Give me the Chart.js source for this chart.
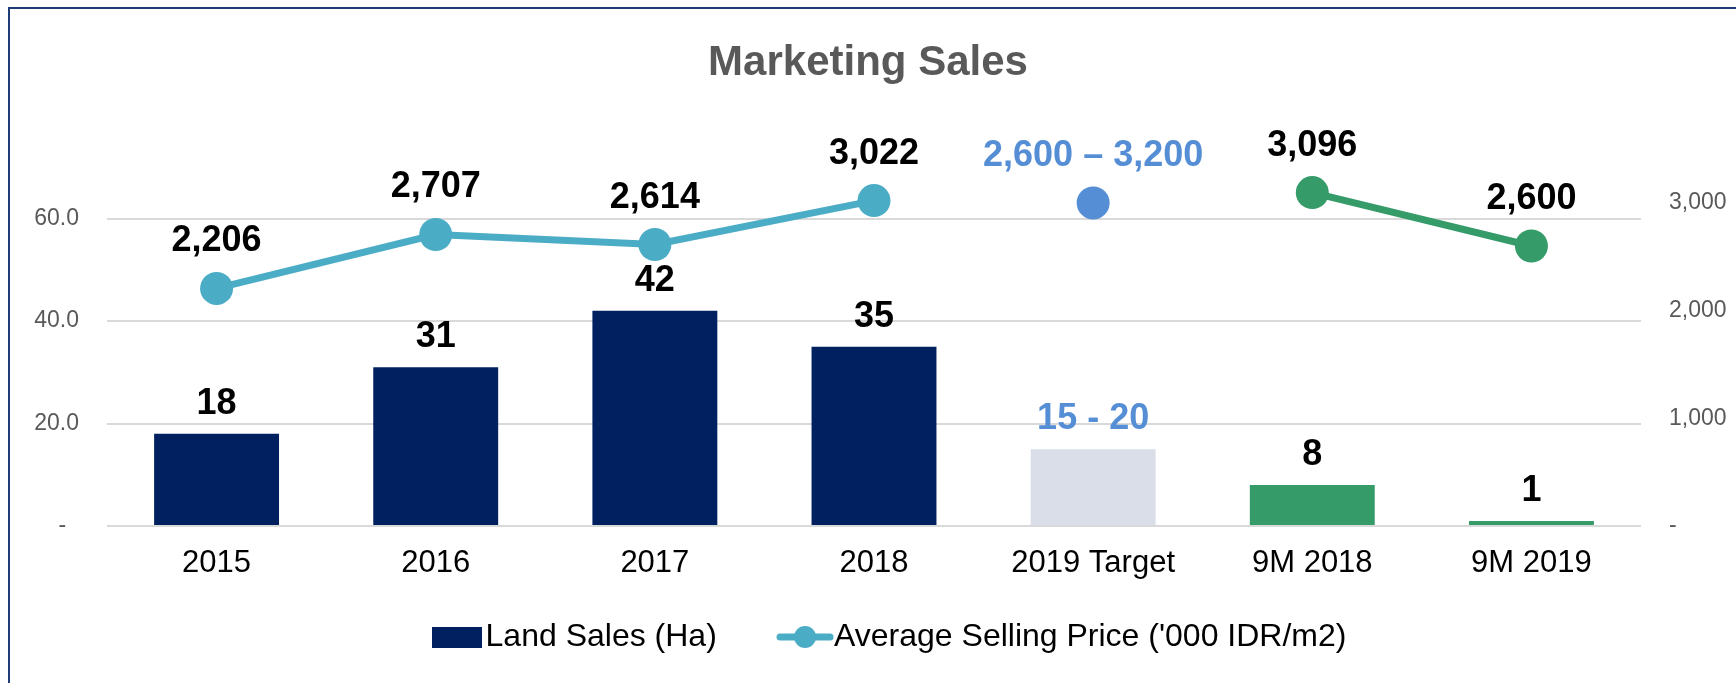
<!DOCTYPE html>
<html>
<head>
<meta charset="utf-8">
<script src="https://cdn.jsdelivr.net/npm/chart.js@4"></script>
<style>
  html, body { margin: 0; padding: 0; background: #fff; }
  #wrap { position: relative; width: 1736px; height: 683px; overflow: hidden; }
  #frame {
    position: absolute; left: 8px; top: 7px; width: 1760px; height: 700px;
    border-left: 2px solid #1F3C78; border-top: 2px solid #1F3C78; pointer-events: none;
  }
</style>
</head>
<body>
<div id="wrap">
  <canvas id="chart" width="1736" height="683"></canvas>
  <div id="frame"></div>
</div>
<script>
const categories = ['2015', '2016', '2017', '2018', '2019 Target', '9M 2018', '9M 2019'];
const landSales = [18, 31, 42, 35, 15, 8, 1];
const landLabels = ['18', '31', '42', '35', '15 - 20', '8', '1'];
const priceHistory = [2206, 2707, 2614, 3022, null, null, null];
const priceTarget = [null, null, null, null, 3000, null, null];
const priceNineMonth = [null, null, null, null, null, 3096, 2600];
const priceLabels = ['2,206', '2,707', '2,614', '3,022', '2,600 – 3,200', '3,096', '2,600'];
const leftTickValues = [0, 20, 40, 60];
const leftTickLabels = ['-  ', '20.0', '40.0', '60.0'];
const rightTickValues = [0, 1000, 2000, 3000];
const rightTickLabels = ['-', '1,000', '2,000', '3,000'];

const NAVY = '#002060';
const TEAL = '#4BACC6';
const TARGET_BLUE = '#558ED5';
const TARGET_BAR = '#D9DEE8';
const GREEN = '#359B69';
const FONT = '"Liberation Sans", Arial, sans-serif';

const barColors = [NAVY, NAVY, NAVY, NAVY, TARGET_BAR, GREEN, GREEN];

function rectIcon(color, w, h) {
  const c = document.createElement('canvas');
  c.width = w; c.height = h;
  const g = c.getContext('2d');
  g.fillStyle = color;
  g.fillRect(0, 0, w, h);
  return c;
}

function lineIcon(color, w, h) {
  const c = document.createElement('canvas');
  c.width = w; c.height = h;
  const g = c.getContext('2d');
  g.strokeStyle = color;
  g.lineWidth = 7;
  g.lineCap = 'round';
  g.beginPath();
  g.moveTo(4, h / 2);
  g.lineTo(w - 4, h / 2);
  g.stroke();
  g.fillStyle = color;
  g.beginPath();
  g.arc(w / 2, h / 2, 11, 0, Math.PI * 2);
  g.fill();
  return c;
}

const valueLabels = {
  id: 'valueLabels',
  afterLayout(chart) {
    // legend sits a little right of centre in the original
    chart.legend.left += 27;
    chart.legend.right += 27;
  },
  afterDatasetsDraw(chart) {
    const ctx = chart.ctx;
    ctx.save();
    ctx.font = 'bold 36px ' + FONT;
    ctx.textAlign = 'center';
    ctx.textBaseline = 'alphabetic';
    chart.data.datasets.forEach((ds, di) => {
      const meta = chart.getDatasetMeta(di);
      meta.data.forEach((el, i) => {
        if (ds.data[i] === null) return;
        ctx.fillStyle = i === 4 ? TARGET_BLUE : '#000';
        if (ds.type === 'bar') {
          ctx.fillText(landLabels[i], el.x, el.y - 20);
        } else {
          ctx.fillText(priceLabels[i], el.x, el.y - 37);
        }
      });
    });
    ctx.restore();
  }
};

new Chart(document.getElementById('chart'), {
  data: {
    labels: categories,
    datasets: [
      {
        type: 'line',
        label: 'Average Selling Price',
        data: priceHistory,
        yAxisID: 'y1',
        borderColor: TEAL,
        backgroundColor: TEAL,
        borderWidth: 7,
        pointRadius: 16.5,
        pointBackgroundColor: TEAL,
        pointBorderWidth: 0,
        tension: 0,
        clip: false,
        order: 0
      },
      {
        type: 'line',
        label: 'Target',
        data: priceTarget,
        yAxisID: 'y1',
        borderColor: TARGET_BLUE,
        backgroundColor: TARGET_BLUE,
        showLine: false,
        pointRadius: 16.5,
        pointBackgroundColor: TARGET_BLUE,
        pointBorderWidth: 0,
        clip: false,
        order: 0
      },
      {
        type: 'line',
        label: '9M',
        data: priceNineMonth,
        yAxisID: 'y1',
        borderColor: GREEN,
        backgroundColor: GREEN,
        borderWidth: 7,
        pointRadius: 16.5,
        pointBackgroundColor: GREEN,
        pointBorderWidth: 0,
        tension: 0,
        clip: false,
        order: 0
      },
      {
        type: 'bar',
        label: 'Land Sales (Ha)',
        data: landSales,
        yAxisID: 'y',
        backgroundColor: barColors,
        categoryPercentage: 1,
        barPercentage: 0.57,
        order: 1
      }
    ]
  },
  options: {
    responsive: false,
    animation: false,
    layout: { padding: { left: 0, right: 0, top: 0, bottom: 20 } },
    scales: {
      x: {
        type: 'category',
        grid: { display: false },
        border: { display: false },
        ticks: { color: '#000', font: { family: FONT, size: 31 }, padding: 11 },
        afterFit: (s) => { s.height = 82; }
      },
      y: {
        type: 'linear',
        position: 'left',
        min: 0,
        max: 70,
        grid: { color: '#D9D9D9', lineWidth: 2, drawTicks: false },
        border: { display: false },
        afterBuildTicks: (s) => { s.ticks = leftTickValues.map(v => ({ value: v })); },
        ticks: {
          autoSkip: false,
          padding: 28,
          color: '#595959',
          font: { family: FONT, size: 23 },
          callback: (v, i) => leftTickLabels[i]
        },
        afterFit: (s) => { s.width = 107; }
      },
      y1: {
        type: 'linear',
        position: 'right',
        min: 0,
        max: 3330,
        grid: { display: false, drawTicks: false },
        border: { display: false },
        afterBuildTicks: (s) => { s.ticks = rightTickValues.map(v => ({ value: v })); },
        ticks: {
          autoSkip: false,
          padding: 28,
          color: '#595959',
          font: { family: FONT, size: 23 },
          callback: (v, i) => rightTickLabels[i]
        },
        afterFit: (s) => { s.width = 95; }
      }
    },
    plugins: {
      title: {
        display: true,
        text: 'Marketing Sales',
        color: '#595959',
        font: { family: FONT, size: 42, weight: 'bold', lineHeight: 1.2 },
        padding: { top: 38, bottom: 79 }
      },
      legend: {
        position: 'bottom',
        labels: {
          usePointStyle: true,
          pointStyleWidth: 26,
          padding: 13,
          color: '#000',
          font: { family: FONT, size: 32 },
          generateLabels: () => [
            {
              text: 'Land Sales (Ha)       ',
              pointStyle: rectIcon(NAVY, 50, 21),
              fillStyle: NAVY, strokeStyle: NAVY, lineWidth: 0,
              hidden: false, datasetIndex: 3
            },
            {
              text: "Average Selling Price ('000 IDR/m2)",
              pointStyle: lineIcon(TEAL, 58, 26),
              fillStyle: TEAL, strokeStyle: TEAL, lineWidth: 0,
              hidden: false, datasetIndex: 0
            }
          ]
        }
      },
      tooltip: { enabled: false }
    }
  },
  plugins: [valueLabels]
});
</script>
</body>
</html>
